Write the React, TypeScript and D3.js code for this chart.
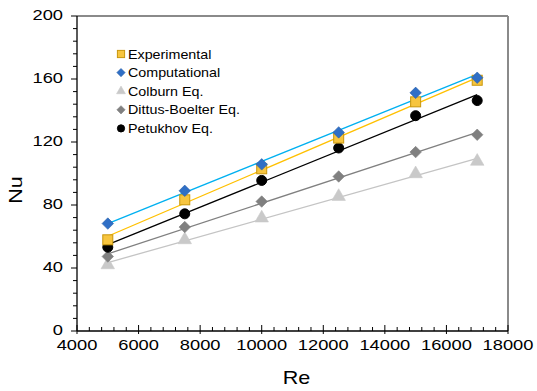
import React from "react";
import * as d3 from "d3";

const reynolds = [5000, 7500, 10000, 12500, 15000, 17000];
const experimental = [57.9, 83.3, 103, 122.5, 145.5, 159.2];
const computational = [68.2, 89, 105.8, 126.1, 151.2, 160.8];
const colburn = [42, 57.9, 71.7, 85.4, 99.8, 107.7];
const dittusBoelter = [47.3, 66, 82.2, 98.1, 113.6, 124.6];
const petukhov = [53.2, 74.4, 95.6, 116.2, 136.7, 146.3];

const xTicks = [4000, 6000, 8000, 10000, 12000, 14000, 16000, 18000];
const yTicks = [0, 40, 80, 120, 160, 200];

type Series = {
  name: string;
  values: number[];
  marker: "square" | "diamond" | "triangle" | "circle";
  fill: string;
  stroke: string;
  line: string;
};

const series: Series[] = [
  { name: "Colburn Eq.", values: colburn, marker: "triangle", fill: "#c9c9c9", stroke: "#c9c9c9", line: "#c4c4c4" },
  { name: "Dittus-Boelter Eq.", values: dittusBoelter, marker: "diamond", fill: "#808080", stroke: "#808080", line: "#808080" },
  { name: "Petukhov Eq.", values: petukhov, marker: "circle", fill: "#000000", stroke: "#000000", line: "#000000" },
  { name: "Experimental", values: experimental, marker: "square", fill: "#f7c53f", stroke: "#c8960c", line: "#ffc000" },
  { name: "Computational", values: computational, marker: "diamond", fill: "#2f6fc6", stroke: "#2a5fa8", line: "#00b0f0" },
];

const legendOrder = ["Experimental", "Computational", "Colburn Eq.", "Dittus-Boelter Eq.", "Petukhov Eq."];

const margin = { left: 77, right: 29, top: 16, bottom: 60 };
const width = 537;
const height = 391;

const x = d3.scaleLinear().domain([4000, 18000]).range([margin.left, width - margin.right]);
const y = d3.scaleLinear().domain([0, 200]).range([height - margin.bottom, margin.top]);

function fit(xs: number[], ys: number[]) {
  const mx = d3.mean(xs)!;
  const my = d3.mean(ys)!;
  const sxy = d3.sum(xs, (v, i) => (v - mx) * (ys[i] - my));
  const sxx = d3.sum(xs, (v) => (v - mx) * (v - mx));
  const slope = sxy / sxx;
  return (v: number) => my + slope * (v - mx);
}

function Marker({ kind, cx, cy, r, fill, stroke }: { kind: string; cx: number; cy: number; r: number; fill: string; stroke: string }) {
  if (kind === "square")
    return <rect x={cx - r} y={cy - r} width={2 * r} height={2 * r} fill={fill} stroke={stroke} strokeWidth={1} />;
  if (kind === "circle") return <circle cx={cx} cy={cy} r={r} fill={fill} stroke={stroke} />;
  if (kind === "diamond") {
    const d = r * 1.15;
    return <path d={`M${cx},${cy - d}L${cx + d},${cy}L${cx},${cy + d}L${cx - d},${cy}Z`} fill={fill} stroke={stroke} strokeWidth={0.6} />;
  }
  return <path d={d3.symbol(d3.symbolTriangle, r * r * 2.6)()!} transform={`translate(${cx},${cy})`} fill={fill} stroke={stroke} strokeWidth={0.6} />;
}

export default function App() {
  const x0 = y(0);
  const xMinor = d3.range(4000, 18001, 400);
  const yMinor = d3.range(0, 201, 8);
  const font = "Liberation Sans, Arial, sans-serif";

  return (
    <svg width={width} height={height} style={{ position: "absolute", left: 0, top: 0 }} fontFamily={font}>
      <rect width={width} height={height} fill="#fff" />
      {/* frame */}
      <line x1={x.range()[0]} x2={x.range()[1]} y1={margin.top} y2={margin.top} stroke="#8a8a8a" strokeWidth={2} />
      <line x1={x.range()[1]} x2={x.range()[1]} y1={margin.top} y2={x0} stroke="#8a8a8a" strokeWidth={2} />

      {/* trend lines */}
      {series.map((s) => {
        const f = fit(reynolds, s.values);
        const lo = reynolds[0];
        const hi = reynolds[reynolds.length - 1];
        return <line key={s.name + "l"} x1={x(lo)} y1={y(f(lo))} x2={x(hi)} y2={y(f(hi))} stroke={s.line} strokeWidth={1.3} />;
      })}

      {/* markers */}
      {series.map((s) =>
        s.values.map((v, i) => (
          <Marker key={s.name + i} kind={s.marker} cx={x(reynolds[i])} cy={y(v)} r={s.marker === "triangle" ? 5.5 : 5} fill={s.fill} stroke={s.stroke} />
        ))
      )}

      {/* axes */}
      <line x1={x.range()[0]} x2={x.range()[0]} y1={margin.top} y2={x0} stroke="#000" strokeWidth={1.3} />
      <line x1={x.range()[0]} x2={x.range()[1]} y1={x0} y2={x0} stroke="#000" strokeWidth={1.3} />
      {yMinor.map((t) => (
        <line key={"ym" + t} x1={x.range()[0] - (t % 40 === 0 ? 6 : 4)} x2={x.range()[0]} y1={y(t)} y2={y(t)} stroke="#000" />
      ))}
      {xMinor.map((t) => (
        <line key={"xm" + t} x1={x(t)} x2={x(t)} y1={x0 - (t % 2000 === 0 ? 6 : 4)} y2={x0 + (t % 2000 === 0 ? 3 : 0)} stroke="#000" />
      ))}
      {yTicks.map((t) => (
        <text key={"yl" + t} transform={`translate(${x.range()[0] - 14},${y(t) - 1}) scale(1.22,1)`} dy="0.35em" textAnchor="end" fontSize={15}>
          {t}
        </text>
      ))}
      {xTicks.map((t) => (
        <text key={"xl" + t} transform={`translate(${x(t)},${x0 + 19}) scale(1.22,1)`} textAnchor="middle" fontSize={15}>
          {t}
        </text>
      ))}
      <text transform={`translate(${(x.range()[0] + x.range()[1]) / 2 + 4},384) scale(1.2,1)`} textAnchor="middle" fontSize={18}>
        Re
      </text>
      <text transform={`translate(22,190) rotate(-90) scale(1.2,1)`} textAnchor="middle" fontSize={18}>
        Nu
      </text>

      {/* legend */}
      {legendOrder.map((name, i) => {
        const s = series.find((d) => d.name === name)!;
        const ly = 54 + i * 18.6;
        return (
          <g key={"lg" + name}>
            <Marker kind={s.marker} cx={121} cy={ly} r={3.6} fill={s.fill} stroke={s.stroke} />
            <text transform={`translate(128,${ly}) scale(1.1,1)`} dy="0.35em" fontSize={13}>
              {name}
            </text>
          </g>
        );
      })}
    </svg>
  );
}
